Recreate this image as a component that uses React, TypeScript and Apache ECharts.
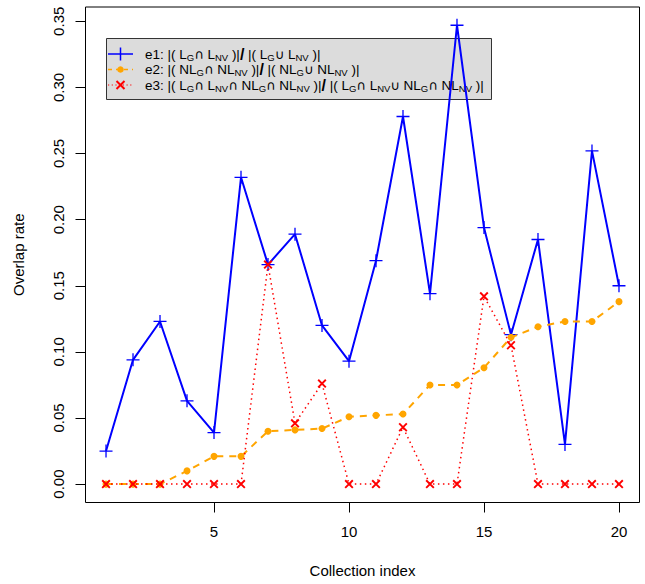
import React, { useEffect, useRef } from "react";
import * as echarts from "echarts";

const collectionIndex = [1, 2, 3, 4, 5, 6, 7, 8, 9, 10, 11, 12, 13, 14, 15, 16, 17, 18, 19, 20];
const e1 = [0.025, 0.094, 0.123, 0.063, 0.039, 0.232, 0.166, 0.189, 0.12, 0.093, 0.169, 0.278, 0.144, 0.347, 0.194, 0.113, 0.185, 0.03, 0.252, 0.15];
const e2 = [0, 0, 0, 0.01, 0.021, 0.021, 0.04, 0.041, 0.042, 0.051, 0.052, 0.053, 0.075, 0.075, 0.088, 0.111, 0.119, 0.123, 0.123, 0.138];
const e3 = [0, 0, 0, 0, 0, 0, 0.166, 0.046, 0.076, 0, 0, 0.043, 0, 0, 0.142, 0.105, 0, 0, 0, 0];
const xTicks = [5, 10, 15, 20];
const yTicks = [0, 0.05, 0.1, 0.15, 0.2, 0.25, 0.3, 0.35];
const xTitle = "Collection index";
const yTitle = "Overlap rate";

const FONT = "Liberation Sans, Arial, Helvetica, sans-serif";
const MATH = "DejaVu Sans, sans-serif";
const PLUS = "path://M-0.1,-1H0.1V1H-0.1Z M-1,-0.1H1V0.1H-1Z";
const CROSS = "path://M-1,-0.7L-0.7,-1L1,0.7L0.7,1Z M-1,0.7L0.7,-1L1,-0.7L-0.7,1Z";

const legendRows = [
  "{n|e1: |( L}{s|G}{m|∩}{n| L}{s|NV}{n| )|}{b|/}{n| |( L}{s|G}{m|∪}{n| L}{s|NV}{n| )|}",
  "{n|e2: |( NL}{s|G}{m|∩}{n| NL}{s|NV}{n| )|}{b|/}{n| |( NL}{s|G}{m|∪}{n| NL}{s|NV}{n| )|}",
  "{n|e3: |( L}{s|G}{m|∩}{n| L}{s|NV}{m|∩}{n| NL}{s|G}{m|∩}{n| NL}{s|NV}{n| )|}{b|/}{n| |( L}{s|G}{m|∩}{n| L}{s|NV}{m|∪}{n| NL}{s|G}{m|∩}{n| NL}{s|NV}{n| )|}",
];

export default function App() {
  const ref = useRef<HTMLDivElement>(null);
  useEffect(() => {
    if (!ref.current) return;
    const chart = echarts.init(ref.current, undefined, { renderer: "svg" });
    const pairs = (arr: number[]) => collectionIndex.map((x, i) => [x, arr[i]]);
    const rich = {
      n: { fontSize: 13.5, fontFamily: FONT, lineHeight: 16, verticalAlign: "middle", color: "#000" },
      m: { fontSize: 13, fontFamily: MATH, lineHeight: 16, verticalAlign: "middle", color: "#000" },
      s: { fontSize: 9.5, fontFamily: FONT, lineHeight: 12, verticalAlign: "bottom", color: "#000" },
      b: { fontSize: 16, fontWeight: "bold", fontFamily: FONT, lineHeight: 16, verticalAlign: "middle", color: "#000" },
    };
    const rowY = [54, 69.5, 85];
    const legendChildren: any[] = [
      {
        type: "rect",
        shape: { x: 106.5, y: 38.5, width: 385, height: 61 },
        style: { fill: "rgba(212,212,212,0.82)", stroke: "#333", lineWidth: 1 },
      },
    ];
    legendChildren.push(
      { type: "line", shape: { x1: 108, y1: rowY[0], x2: 133, y2: rowY[0] }, style: { stroke: "#0000ff", lineWidth: 1.5 } },
      { type: "line", shape: { x1: 120.5, y1: rowY[0] - 6.5, x2: 120.5, y2: rowY[0] + 6.5 }, style: { stroke: "#0000ff", lineWidth: 1.5 } },
      { type: "line", shape: { x1: 108, y1: rowY[1], x2: 133, y2: rowY[1] }, style: { stroke: "#ffa500", lineWidth: 1.5, lineDash: [4, 4] } },
      { type: "circle", shape: { cx: 120.5, cy: rowY[1], r: 3.3 }, style: { fill: "#ffa500" } },
      { type: "line", shape: { x1: 108, y1: rowY[2], x2: 133, y2: rowY[2] }, style: { stroke: "#ff0000", lineWidth: 1.2, lineDash: [1.2, 2.5] } },
      { type: "line", shape: { x1: 116.5, y1: rowY[2] - 4, x2: 124.5, y2: rowY[2] + 4 }, style: { stroke: "#ff0000", lineWidth: 2 } },
      { type: "line", shape: { x1: 116.5, y1: rowY[2] + 4, x2: 124.5, y2: rowY[2] - 4 }, style: { stroke: "#ff0000", lineWidth: 2 } }
    );
    legendRows.forEach((t, i) => {
      legendChildren.push({
        type: "text",
        x: 145,
        y: rowY[i],
        style: { text: t, rich, align: "left", verticalAlign: "middle", fontFamily: FONT },
      });
    });

    chart.setOption({
      animation: false,
      backgroundColor: "#ffffff",
      textStyle: { fontFamily: FONT },
      grid: {
        left: 85.5,
        right: 5.5,
        top: 7,
        bottom: 81.5,
        show: true,
        borderColor: "#000",
        borderWidth: 1,
        backgroundColor: "transparent",
        containLabel: false,
        outerBoundsMode: "none",
      },
      xAxis: {
        type: "value",
        min: 0.24,
        max: 20.76,
        name: xTitle,
        nameLocation: "middle",
        nameGap: 60,
        nameTextStyle: { fontSize: 15, color: "#000", fontFamily: FONT },
        axisLine: { show: false, onZero: false },
        axisTick: { show: true, inside: false, length: 10, lineStyle: { color: "#000", width: 1 }, customValues: xTicks },
        axisLabel: { show: true, margin: 21, fontSize: 15, color: "#000", fontFamily: FONT, customValues: xTicks },
        splitLine: { show: false },
      },
      yAxis: {
        type: "value",
        min: -0.0139,
        max: 0.3608,
        name: yTitle,
        nameLocation: "middle",
        nameGap: 60,
        nameTextStyle: { fontSize: 15, color: "#000", fontFamily: FONT },
        axisLine: { show: false, onZero: false },
        axisTick: { show: true, inside: false, length: 10, lineStyle: { color: "#000", width: 1 }, customValues: yTicks },
        axisLabel: {
          show: true,
          rotate: 90,
          margin: 20,
          fontSize: 15,
          color: "#000",
          fontFamily: FONT,
          customValues: yTicks,
          formatter: (v: number) => v.toFixed(2),
        },
        splitLine: { show: false },
      },
      series: [
        {
          type: "line",
          data: pairs(e1),
          silent: true,
          showSymbol: true,
          showAllSymbol: true,
          symbol: PLUS,
          symbolSize: 13,
          lineStyle: { color: "#0000ff", width: 2, type: "solid" },
          itemStyle: { color: "#0000ff" },
          emphasis: { disabled: true },
          z: 2,
        },
        {
          type: "line",
          data: pairs(e2),
          silent: true,
          showSymbol: true,
          showAllSymbol: true,
          symbol: "circle",
          symbolSize: 7,
          lineStyle: { color: "#ffa500", width: 2, type: [7, 6] },
          itemStyle: { color: "#ffa500", borderWidth: 0 },
          emphasis: { disabled: true },
          z: 3,
        },
        {
          type: "line",
          data: pairs(e3),
          silent: true,
          showSymbol: true,
          showAllSymbol: true,
          symbol: CROSS,
          symbolSize: 9,
          lineStyle: { color: "#ff0000", width: 1.5, type: [1.5, 3.5] },
          itemStyle: { color: "#ff0000" },
          emphasis: { disabled: true },
          z: 4,
        },
      ],
      graphic: [{ type: "group", z: 100, children: legendChildren }],
    });
    return () => chart.dispose();
  }, []);
  return <div ref={ref} style={{ position: "absolute", left: 0, top: 0, width: 645, height: 584 }} />;
}
